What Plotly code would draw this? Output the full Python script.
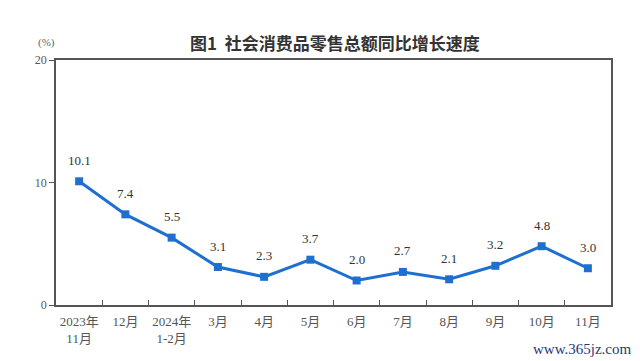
import plotly.graph_objects as go

categories = ["2023年<br>11月", "12月", "2024年<br>1-2月", "3月", "4月", "5月", "6月", "7月", "8月", "9月", "10月", "11月"]
values = [10.1, 7.4, 5.5, 3.1, 2.3, 3.7, 2.0, 2.7, 2.1, 3.2, 4.8, 3.0]
y_ticks = [0, 10, 20]
title_text = "图1  社会消费品零售总额同比增长速度"
unit_text = "(%)"
watermark = "www.365jz.com"

serif = "Liberation Serif, Noto Sans CJK SC, serif"
blue = "#1f6fd0"

# page body has an 8px margin, so figure is offset by (8, 8)
OFF = 8
W, H = 640 - OFF, 361 - OFF
L, R, T, B = 56 - OFF, 29, 60 - OFF, 56

fig = go.Figure()
fig.add_trace(go.Scatter(
    x=categories, y=values, mode="lines+markers",
    line=dict(color=blue, width=3),
    marker=dict(symbol="square", size=8, color=blue),
    cliponaxis=False, hoverinfo="skip",
))

plot_w = W - L - R
plot_h = H - T - B
def px(x):
    return (x - OFF - L) / plot_w
def py(y):
    return (H - B - (y - OFF)) / plot_h

annotations = [
    dict(text=f"{v:.1f}", x=c, y=v, xref="x", yref="y", showarrow=False,
         yshift=21, font=dict(family=serif, size=13, color="#333333"))
    for c, v in zip(categories, values)
]
annotations += [
    dict(text=title_text, x=px(335), y=py(42), xref="paper", yref="paper", showarrow=False,
         xanchor="center", yanchor="middle",
         font=dict(family="Noto Sans CJK SC", size=17, color="#333333", weight="bold")),
    dict(text=unit_text, x=px(46), y=py(42), xref="paper", yref="paper", showarrow=False,
         xanchor="center", yanchor="middle",
         font=dict(family=serif, size=11, color="#666666")),
    dict(text=watermark, x=px(634), y=py(349), xref="paper", yref="paper", showarrow=False,
         xanchor="right", yanchor="middle",
         font=dict(family=serif, size=15, color="#1a3a7a")),
]

fig.update_layout(
    width=W, height=H,
    margin=dict(l=L, r=R, t=T, b=B),
    paper_bgcolor="white", plot_bgcolor="white",
    showlegend=False,
    annotations=annotations,
)

fig.update_xaxes(
    type="category", range=[-0.5, 11.5],
    showline=True, linecolor="#555555", linewidth=1.5, mirror=True,
    ticks="inside", ticklen=5, tickcolor="#555555", tickson="boundaries",
    showgrid=False, zeroline=False, ticklabelstandoff=4, tickangle=0, automargin=False,
    tickfont=dict(family=serif, size=13, color="#555555"),
)
fig.update_yaxes(
    range=[0, 20], tickvals=y_ticks, automargin=False,
    showline=True, linecolor="#555555", linewidth=1.5, mirror=True,
    ticks="outside", ticklen=5, tickcolor="#555555",
    showgrid=False, zeroline=False,
    tickfont=dict(family=serif, size=12, color="#555555"),
)

fig.write_html("out.html")
